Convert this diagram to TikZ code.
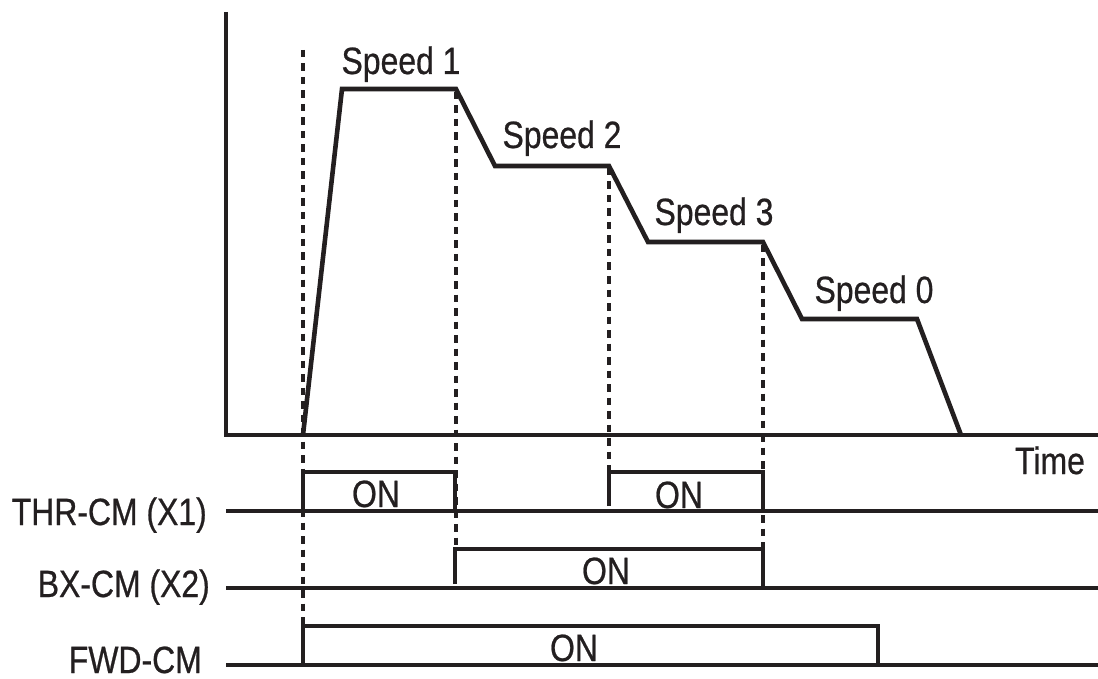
\documentclass[tikz,border=0pt]{standalone}
\usepackage{fontspec}
\setmainfont{Liberation Sans}[FakeStretch=0.84,FakeBold=0.6]
\definecolor{ink}{HTML}{231F20}
\begin{document}
\begin{tikzpicture}[x=1pt,y=-1pt,
  solid line/.style={line width=4.6pt,draw=ink,line join=miter},
  guide/.style={line width=4.2pt,draw=ink,dash pattern=on 7.5pt off 6pt},
  lbl/.style={font=\fontsize{38}{40}\selectfont,text=ink,inner sep=0pt,anchor=base}]
\useasboundingbox (0,0) rectangle (1098,679);
% axes
\coordinate (ytop) at (226,12);
\coordinate (orig) at (226,435);
\coordinate (xend) at (1098,435);
\draw[solid line] (ytop) -- (orig) -- (xend);
% speed profile
\coordinate (p0) at (303,435);
\coordinate (p1) at (342,89);
\coordinate (p2) at (456,89);
\coordinate (p3) at (495,166);
\coordinate (p4) at (609,166);
\coordinate (p5) at (648,242);
\coordinate (p6) at (763,242);
\coordinate (p7) at (802,319);
\coordinate (p8) at (917,319);
\coordinate (p9) at (961,435);
\draw[solid line] (p0) -- (p1) -- (p2) -- (p3) -- (p4) -- (p5) -- (p6) -- (p7) -- (p8) -- (p9);
% signal lines
\coordinate (thrA) at (226,511); \coordinate (thrB) at (1098,511);
\coordinate (bxA) at (226,588);  \coordinate (bxB) at (1098,588);
\coordinate (fwdA) at (226,665); \coordinate (fwdB) at (1098,665);
\draw[solid line] (thrA) -- (thrB);
\draw[solid line] (bxA) -- (bxB);
\draw[solid line] (fwdA) -- (fwdB);
% pulses
\coordinate (t1a) at (303,511); \coordinate (t1b) at (303,472);
\coordinate (t1c) at (455,472); \coordinate (t1d) at (455,511);
\draw[solid line] (t1a) -- (t1b) -- (t1c) -- (t1d);
\coordinate (t2a) at (609,506); \coordinate (t2b) at (609,472);
\coordinate (t2c) at (763,472); \coordinate (t2d) at (763,511);
\draw[solid line] (t2a) -- (t2b) -- (t2c) -- (t2d);
\coordinate (b1a) at (455,584); \coordinate (b1b) at (455,549);
\coordinate (b1c) at (763,549); \coordinate (b1d) at (763,588);
\draw[solid line] (b1a) -- (b1b) -- (b1c) -- (b1d);
\coordinate (f1a) at (303,665); \coordinate (f1b) at (303,626);
\coordinate (f1c) at (878,626); \coordinate (f1d) at (878,665);
\draw[solid line] (f1a) -- (f1b) -- (f1c) -- (f1d);
% dashed guides
\coordinate (g1t) at (303,50);  \coordinate (g1b) at (303,626);
\coordinate (g2t) at (456,92);  \coordinate (g2b) at (456,549);
\coordinate (g3t) at (609,168); \coordinate (g3b) at (609,472);
\coordinate (g4t) at (763,245); \coordinate (g4b) at (763,549);
\draw[guide] (g1t) -- (g1b);
\draw[guide] (g2t) -- (g2b);
\draw[guide] (g3t) -- (g3b);
\draw[guide] (g4t) -- (g4b);
% labels
\node[lbl] (s1) at (401,74) {Speed 1};
\node[lbl] (s2) at (562,148) {Speed 2};
\node[lbl] (s3) at (714,225) {Speed 3};
\node[lbl] (s0) at (874,303) {Speed 0};
\node[lbl] (time) at (1050,474) {Time};
\node[lbl,anchor=base east] (thr) at (207,525) {THR-CM (X1)};
\node[lbl,anchor=base east] (bx) at (210,597) {BX-CM (X2)};
\node[lbl,anchor=base east] (fwd) at (202,673) {FWD-CM};
\node[lbl] (on1) at (376,507) {ON};
\node[lbl] (on2) at (679,508) {ON};
\node[lbl] (on3) at (606,584) {ON};
\node[lbl] (on4) at (574,661) {ON};
\end{tikzpicture}
\end{document}
